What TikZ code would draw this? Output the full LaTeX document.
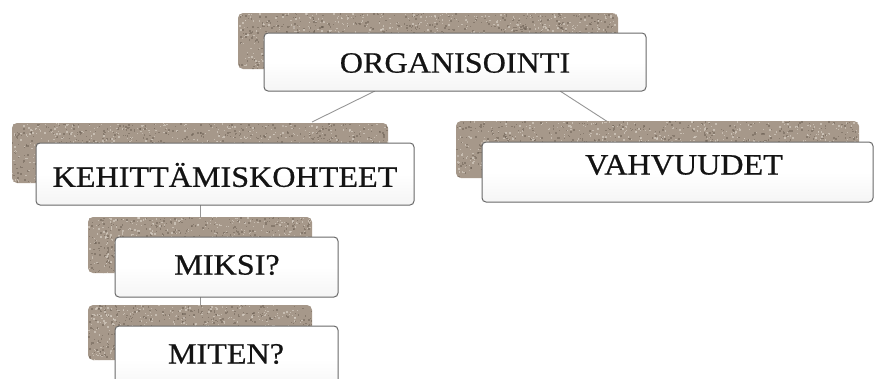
\documentclass[tikz,border=0pt]{standalone}
\usepackage{fontspec}
\setmainfont[FakeStretch=1.09,FakeBold=0.6]{Liberation Serif}
\definecolor{shadowcol}{RGB}{166,152,138}
\definecolor{shadowdark}{RGB}{105,94,82}
\definecolor{shadowlight}{RGB}{218,209,199}
\definecolor{boxborder}{RGB}{105,105,105}
\definecolor{linkcol}{RGB}{150,150,150}
\definecolor{txtcol}{RGB}{20,20,20}
\tikzset{
  shadowbox/.style={draw=none, fill=shadowcol, rounded corners=5pt, inner sep=0pt},
  frontbox/.style={draw=boxborder, line width=1pt, top color=white, bottom color=black!4, middle color=white, rounded corners=4pt, inner sep=0pt},
  label/.style={font=\fontsize{29.5}{30}\selectfont, text=txtcol, inner sep=0pt, anchor=center},
  link/.style={draw=linkcol, line width=0.9pt},
  grain/.style={fill=shadowdark, opacity=0.5},
  grainl/.style={fill=shadowlight, opacity=0.65}
}
\newcommand{\texturebox}[5]{% x1 y1 x2 y2 count
  \begin{scope}
    \clip[rounded corners=5pt] (#1,#2) rectangle (#3,#4);
    \foreach \k in {1,...,#5}{%
      \pgfmathsetmacro{\gx}{#1+rnd*(#3-#1)}%
      \pgfmathsetmacro{\gy}{#2+rnd*(#4-#2)}%
      \pgfmathsetmacro{\gr}{0.8+rnd*1.2}%
      \fill[grain] (\gx,\gy) rectangle ++(\gr,\gr);%
    }
    \foreach \k in {1,...,#5}{%
      \pgfmathsetmacro{\gx}{#1+rnd*(#3-#1)}%
      \pgfmathsetmacro{\gy}{#2+rnd*(#4-#2)}%
      \pgfmathsetmacro{\gr}{0.8+rnd*1.0}%
      \fill[grainl] (\gx,\gy) rectangle ++(\gr,\gr);%
    }
  \end{scope}}
\begin{document}
\begin{tikzpicture}[x=1pt,y=-1pt]
\pgfmathsetseed{4711}
\useasboundingbox (0,0) rectangle (874,378);
% connector anchor points
\coordinate (l1a) at (375,91);
\coordinate (l1b) at (312,122);
\coordinate (l2a) at (560,91);
\coordinate (l2b) at (608,122);
\coordinate (l3a) at (200,186);
\coordinate (l3b) at (200,330);
\draw[link] (l1a) -- (l1b);
\draw[link] (l2a) -- (l2b);
\draw[link] (l3a) -- (l3b);
% ORGANISOINTI
\node[shadowbox, minimum width=380pt, minimum height=56pt] (orgS) at (428,41) {};
\texturebox{238}{13}{618}{69}{800}
\node[frontbox, minimum width=382pt, minimum height=58pt] (orgB) at (455,62) {};
\node[label] (org) at (455,63) {ORGANISOINTI};
% KEHITTAMISKOHTEET
\node[shadowbox, minimum width=376pt, minimum height=60pt] (kehS) at (200,153) {};
\texturebox{12}{123}{388}{183}{800}
\node[frontbox, minimum width=378pt, minimum height=62pt] (kehB) at (225,174) {};
\node[label] (keh) at (225,175) {KEHITTÄMISKOHTEET};
% VAHVUUDET
\node[shadowbox, minimum width=403pt, minimum height=57pt] (vahS) at (657.5,149.5) {};
\texturebox{456}{121}{859}{178}{800}
\node[frontbox, minimum width=391pt, minimum height=60pt] (vahB) at (677.5,172) {};
\node[label] (vah) at (684,165) {VAHVUUDET};
% MIKSI
\node[shadowbox, minimum width=224pt, minimum height=56pt] (miksiS) at (200,245) {};
\texturebox{88}{217}{312}{273}{480}
\node[frontbox, minimum width=223pt, minimum height=60pt] (miksiB) at (226.5,267) {};
\node[label] (miksi) at (227,265) {MIKSI?};
% MITEN
\node[shadowbox, minimum width=224pt, minimum height=55pt] (mitenS) at (200,332.5) {};
\texturebox{88}{305}{312}{360}{480}
\node[frontbox, minimum width=223pt, minimum height=66pt] (mitenB) at (226.5,359) {};
\node[label] (miten) at (226,354) {MITEN?};
\end{tikzpicture}
\end{document}
